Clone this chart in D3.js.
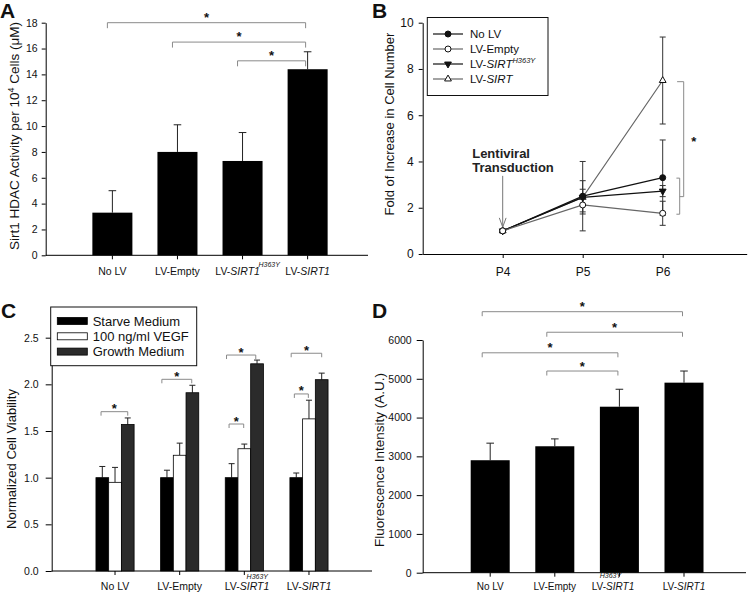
<!DOCTYPE html>
<html>
<head>
<meta charset="utf-8">
<script src="https://cdn.jsdelivr.net/npm/d3@7"></script>
<style>
  body { margin: 0; background: #fff; }
  svg { display: block; font-family: "Liberation Sans", Arial, sans-serif; }
</style>
</head>
<body>
<svg width="750" height="595"></svg>
<script>
// ---- data ----
const groups = ["No LV", "LV-Empty", "LV-SIRT1 H363Y", "LV-SIRT1"];

// A: Sirt1 HDAC activity
const hdacMean = [3.3, 8.0, 7.3, 14.4];
const hdacErr = [1.7, 2.1, 2.2, 1.35];
const hdacSig = [[0, 3, 18], [1, 3, 16.5], [2, 3, 15.05]];

// B: fold increase in cell number
const passages = [4, 5, 6];
const noLV = [1.0, 2.5, 3.3], noLVErr = [0, 1.5, 1.63];
const lvEmpty = [1.0, 2.12, 1.76], lvEmptyErr = [0, 0.3, 0.52];
const lvH363Y = [1.0, 2.45, 2.72], lvH363YErr = [0, 0.35, 0.24];
const lvSirt = [1.0, 2.45, 7.5], lvSirtErr = [0, 0.72, 1.88];

// C: normalized cell viability
const media = ["Starve Medium", "100 ng/ml VEGF", "Growth Medium"];
const starve = [1.0, 1.0, 1.0, 1.0], starveErr = [0.12, 0.08, 0.15, 0.05];
const vegf = [0.95, 1.24, 1.31, 1.63], vegfErr = [0.16, 0.13, 0.05, 0.2];
const growth = [1.57, 1.91, 2.22, 2.05], growthErr = [0.07, 0.08, 0.04, 0.07];
// [group, from (medium index), to (medium index), level]
const viaSig = [[0, -0.1, 2.0, 1.707], [1, -0.4, 1.95, 2.054], [2, -0.4, 1.9, 2.314],
  [2, -0.2, 0.95, 1.575], [3, -0.4, 2.0, 2.333], [3, -0.15, 0.95, 1.897]];

// D: fluorescence intensity
const fluoMean = [2900, 3260, 4280, 4900];
const fluoErr = [440, 190, 450, 300];
const fluoSig = [[0, 3, 6730], [1, 3, 6200], [0, 2, 5670], [1, 2, 5200]];

// ---- setup ----
const svg = d3.select("svg");
const font = '"Liberation Sans", Arial, sans-serif';
const ink = "#111";
const bracketColor = "#8a8a8a";
svg.append("rect").attr("width", 750).attr("height", 595).attr("fill", "#fff");

function letter(t, x, y) {
  svg.append("text").attr("x", x).attr("y", y)
    .attr("font-size", 21).attr("font-weight", "bold").attr("fill", ink).text(t);
}

function yAxis(scale, x, vals, fmt, size, pad, fs) {
  svg.append("g").attr("transform", `translate(${x},0)`)
    .call(d3.axisLeft(scale).tickValues(vals).tickFormat(fmt)
      .tickSize(size).tickPadding(pad).tickSizeOuter(0))
    .attr("font-family", font).attr("font-size", fs)
    .call(g => g.selectAll("text").attr("fill", ink))
    .call(g => g.selectAll("line,path").attr("stroke", "#000"));
}

function yTitle(x, y, fs, build) {
  const t = svg.append("text")
    .attr("transform", `translate(${x},${y}) rotate(-90)`)
    .attr("text-anchor", "middle").attr("font-size", fs).attr("fill", ink);
  build(t);
}

// band x axis with italic SIRT1 and the H363Y superscript
function xAxisBand(scale, y, x0, x1, fs, pad, mainDx, supX, supY) {
  const g = svg.append("g").attr("transform", `translate(0,${y})`)
    .call(d3.axisBottom(scale).tickSize(4).tickPadding(pad).tickSizeOuter(0))
    .attr("font-family", font).attr("font-size", fs);
  g.select(".domain").remove();
  g.selectAll("line").attr("stroke", "#000");
  g.append("line").attr("x1", x0).attr("x2", x1).attr("stroke", "#000");
  g.selectAll(".tick text").attr("fill", ink).each(function (d) {
    const t = d3.select(this);
    if (d.startsWith("LV-SIRT1")) {
      t.text(null);
      t.append("tspan").text("LV-");
      t.append("tspan").attr("font-style", "italic").text("SIRT1");
    }
    if (d.endsWith("H363Y")) {
      t.attr("dx", mainDx);
      d3.select(this.parentNode).append("text")
        .attr("x", supX).attr("y", supY).attr("fill", ink)
        .attr("font-size", 7).attr("font-style", "italic").text("H363Y");
    }
  });
}

function bracket(x0, x1, y, drop) {
  svg.append("path")
    .attr("d", `M${x0},${y + drop}V${y}H${x1}V${y + drop}`)
    .attr("fill", "none").attr("stroke", bracketColor).attr("stroke-width", 1);
}

function star(x, y) {
  svg.append("text").attr("x", x).attr("y", y).attr("text-anchor", "middle")
    .attr("font-size", 13).attr("font-weight", "bold").attr("fill", ink).text("*");
}

function errBar(x, y0, y1, half, color) {
  svg.append("path").attr("d", `M${x},${y0}V${y1}M${x - half},${y1}H${x + half}`)
    .attr("fill", "none").attr("stroke", color || "#222").attr("stroke-width", 1);
}

// ================= A =================
const xA = d3.scaleBand().domain(groups).range([80, 340]).paddingInner(0.385).paddingOuter(0.19);
const yA = d3.scaleLinear().domain([0, 18]).range([255.3, 22.7]);

letter("A", 0, 18);
yAxis(yA, 45.7, d3.range(0, 19, 2), d3.format("d"), 4, 4, 10.5);
xAxisBand(xA, 255.3, 45.7, 368, 10.5, 8.5, -4.9, 26.7, 11.4);

hdacMean.forEach((v, i) => {
  const cx = xA(groups[i]) + xA.bandwidth() / 2;
  errBar(cx, yA(v), yA(v + hdacErr[i]), 3.8);
});
svg.append("g").selectAll("rect").data(hdacMean).join("rect")
  .attr("x", (d, i) => xA(groups[i])).attr("width", xA.bandwidth())
  .attr("y", d => yA(d)).attr("height", d => yA(0) - yA(d)).attr("fill", "#000");

hdacSig.forEach(([a, b, lv]) => {
  const x0 = xA(groups[a]) + xA.bandwidth() / 2 - 5;
  const x1 = xA(groups[b]) + xA.bandwidth() / 2 - 2;
  bracket(x0, x1, yA(lv), 5.5);
  star((x0 + x1) / 2, yA(lv) - 1);
});

yTitle(19, 136, 13.5, t => {
  t.append("tspan").text("Sirt1 HDAC Activity per 10");
  t.append("tspan").attr("font-size", 9).attr("dy", -5).text("4");
  t.append("tspan").attr("dy", 5).text(" Cells (\u03bcM)");
});

// ================= B =================
const xB = d3.scaleLinear().domain([3, 7.05]).range([422.7, 746.7]);
const yB = d3.scaleLinear().domain([0, 10]).range([254, 22.7]);

letter("B", 372, 18);
yAxis(yB, 422.7, d3.range(0, 11, 2), d3.format("d"), 4, 5, 12);
{
  const g = svg.append("g").attr("transform", "translate(0,254)")
    .call(d3.axisBottom(xB).tickValues(passages).tickFormat(d => "P" + d)
      .tickSize(4).tickPadding(9).tickSizeOuter(0))
    .attr("font-family", font).attr("font-size", 12);
  g.selectAll("text").attr("fill", ink);
  g.selectAll("line,path").attr("stroke", "#000");
}

const seriesB = [
  { name: "No LV", v: noLV, e: noLVErr, color: "#111", shape: "circle", open: false },
  { name: "LV-Empty", v: lvEmpty, e: lvEmptyErr, color: "#666", shape: "circle", open: true },
  { name: "H363Y", v: lvH363Y, e: lvH363YErr, color: "#111", shape: "down", open: false },
  { name: "LV-SIRT", v: lvSirt, e: lvSirtErr, color: "#666", shape: "up", open: true }
];
// drawing order of the markers (open circle ends up on top)
const drawOrder = [3, 2, 0, 1];

seriesB.forEach(s => {
  passages.forEach((p, i) => {
    if (s.e[i] > 0) {
      svg.append("path")
        .attr("d", `M${xB(p)},${yB(s.v[i] - s.e[i])}V${yB(s.v[i] + s.e[i])}` +
          `M${xB(p) - 3},${yB(s.v[i] - s.e[i])}h6M${xB(p) - 3},${yB(s.v[i] + s.e[i])}h6`)
        .attr("fill", "none").attr("stroke", "#333").attr("stroke-width", 1);
    }
  });
});

const lineB = d3.line().x((d, i) => xB(passages[i])).y(d => yB(d));
drawOrder.forEach(k => {
  const s = seriesB[k];
  svg.append("path").attr("d", lineB(s.v)).attr("fill", "none")
    .attr("stroke", s.color).attr("stroke-width", 1.2);
});

function marker(g, s, x, y) {
  const fill = s.open ? "#fff" : "#111";
  if (s.shape === "circle") {
    g.append("circle").attr("cx", x).attr("cy", y).attr("r", 3)
      .attr("fill", fill).attr("stroke", "#111").attr("stroke-width", 1);
  } else {
    g.append("path").attr("d", d3.symbol().type(d3.symbolTriangle).size(20)())
      .attr("transform", `translate(${x},${y})` + (s.shape === "down" ? " rotate(180)" : ""))
      .attr("fill", fill).attr("stroke", "#111").attr("stroke-width", 1);
  }
}
drawOrder.forEach(k => {
  const s = seriesB[k];
  passages.forEach((p, i) => marker(svg, s, xB(p), yB(s.v[i])));
});

// B significance brackets at P6
{
  const p6 = xB(6);
  const bx = p6 + 21, sx = p6 + 17;
  svg.append("path")
    .attr("d", `M${p6 + 14.4},${yB(7.45)}H${bx}V${yB(2.48)}H${sx}`)
    .attr("fill", "none").attr("stroke", bracketColor);
  svg.append("path")
    .attr("d", `M${p6 + 13.7},${yB(3.28)}H${sx}V${yB(1.72)}H${p6 + 13.7}`)
    .attr("fill", "none").attr("stroke", bracketColor);
  star(p6 + 31, yB(5.0) + 7.5);
}

// transduction note
{
  const ax = xB(4), ay = yB(1);
  svg.append("text").attr("x", ax - 30.5).attr("y", ay - 72.5)
    .attr("font-size", 13).attr("font-weight", "bold").attr("fill", "#222").text("Lentiviral");
  svg.append("text").attr("x", ax - 30.5).attr("y", ay - 58.5)
    .attr("font-size", 13).attr("font-weight", "bold").attr("fill", "#222").text("Transduction");
  svg.append("path")
    .attr("d", `M${ax},${ay - 55}V${ay - 3.8}M${ax - 3.4},${ay - 13}L${ax},${ay - 3.8}L${ax + 3.4},${ay - 13}`)
    .attr("fill", "none").attr("stroke", "#777").attr("stroke-width", 1);
}

// legend B
{
  const lg = svg.append("g");
  lg.append("rect").attr("x", 427.3).attr("y", 17.5).attr("width", 120.7).attr("height", 78)
    .attr("fill", "#fff").attr("stroke", "#111");
  seriesB.forEach((s, i) => {
    const y = 34 + i * 15;
    lg.append("line").attr("x1", 433).attr("x2", 463).attr("y1", y).attr("y2", y)
      .attr("stroke", s.color).attr("stroke-width", 1.2);
    marker(lg, s, 448, y);
    const t = lg.append("text").attr("x", 470).attr("y", y + 4)
      .attr("font-size", 11.5).attr("fill", ink);
    if (s.name === "H363Y") {
      t.append("tspan").text("LV-");
      t.append("tspan").attr("font-style", "italic").text("SIRT");
      t.append("tspan").attr("font-size", 7.5).attr("font-style", "italic").attr("dy", -5).text("H363Y");
    } else if (s.name === "LV-SIRT") {
      t.append("tspan").text("LV-");
      t.append("tspan").attr("font-style", "italic").text("SIRT");
    } else {
      t.text(s.name);
    }
  });
}

yTitle(394, 124, 13, t => t.text("Fold of Increase in Cell Number"));

// ================= C =================
const xC = d3.scaleBand().domain(groups).range([82.7, 341.3]).paddingInner(0.41).paddingOuter(0.205);
const xC1 = d3.scaleBand().domain(media).range([0, xC.bandwidth()]);
const yC = d3.scaleLinear().domain([0, 2.8]).range([571, 571 - 2.8 * 93.33]);
const valsC = [starve, vegf, growth];
const errsC = [starveErr, vegfErr, growthErr];
const fillsC = ["#000", "#fff", "#2b2b2b"];

letter("C", 1, 318);
yAxis(yC, 51.7, d3.range(0, 2.51, 0.5), d3.format(".1f"), 6, 7, 10.5);
xAxisBand(xC, 571, 51.7, 372, 10.5, 8, 2.7, 13, 7.8);

media.forEach((m, k) => {
  groups.forEach((gname, i) => {
    const cx = xC(gname) + xC1(m) + xC1.bandwidth() / 2;
    errBar(cx, yC(valsC[k][i]), yC(valsC[k][i] + errsC[k][i]), 3);
  });
  svg.append("g").selectAll("rect").data(valsC[k]).join("rect")
    .attr("x", (d, i) => xC(groups[i]) + xC1(m)).attr("width", xC1.bandwidth())
    .attr("y", d => yC(d)).attr("height", d => yC(0) - yC(d))
    .attr("fill", fillsC[k]).attr("stroke", "#000").attr("stroke-width", 0.8);
});

viaSig.forEach(([gi, a, b, lv]) => {
  const base = xC(groups[gi]) + xC1.bandwidth() / 2;
  const x0 = base + a * xC1.bandwidth();
  const x1 = base + b * xC1.bandwidth();
  bracket(x0, x1, yC(lv), 4);
  star((x0 + x1) / 2, yC(lv) + 1.5);
});

// legend C
{
  const lg = svg.append("g");
  lg.append("rect").attr("x", 50.7).attr("y", 307).attr("width", 146).attr("height", 58.7)
    .attr("fill", "#fff").attr("stroke", "#111");
  media.forEach((m, k) => {
    const y = 321 + k * 15.3;
    lg.append("rect").attr("x", 57.3).attr("y", y - 3.5).attr("width", 30).attr("height", 7)
      .attr("fill", fillsC[k]).attr("stroke", "#000").attr("stroke-width", 0.8);
    lg.append("text").attr("x", 92.7).attr("y", y + 4.6).attr("font-size", 13)
      .attr("fill", ink).text(m);
  });
}

yTitle(16, 459, 13, t => t.text("Normalized Cell Viability"));

// ================= D =================
const xD = d3.scaleBand().domain(groups).range([457.9, 716.3]).paddingInner(0.396).paddingOuter(0.198);
const yD = d3.scaleLinear().domain([0, 6000]).range([572.7, 340]);

letter("D", 372, 318);
yAxis(yD, 422.7, d3.range(0, 6001, 1000), d3.format("d"), 6, 5, 10.5);
xAxisBand(xD, 572.7, 422.7, 746, 10, 6, -6.4, -9, 5.6);

fluoMean.forEach((v, i) => {
  const cx = xD(groups[i]) + xD.bandwidth() / 2;
  errBar(cx, yD(v), yD(v + fluoErr[i]), 3.8);
});
svg.append("g").selectAll("rect").data(fluoMean).join("rect")
  .attr("x", (d, i) => xD(groups[i])).attr("width", xD.bandwidth())
  .attr("y", d => yD(d)).attr("height", d => yD(0) - yD(d)).attr("fill", "#000");

fluoSig.forEach(([a, b, lv]) => {
  const x0 = xD(groups[a]) + xD.bandwidth() / 2 - 8;
  const x1 = xD(groups[b]) + xD.bandwidth() / 2 - 1.5;
  bracket(x0, x1, yD(lv), 4.5);
  star((x0 + x1) / 2, yD(lv) - 0.5);
});

yTitle(384, 460, 13.5, t => t.text("Fluorescence Intensity (A.U.)"));
</script>
</body>
</html>
